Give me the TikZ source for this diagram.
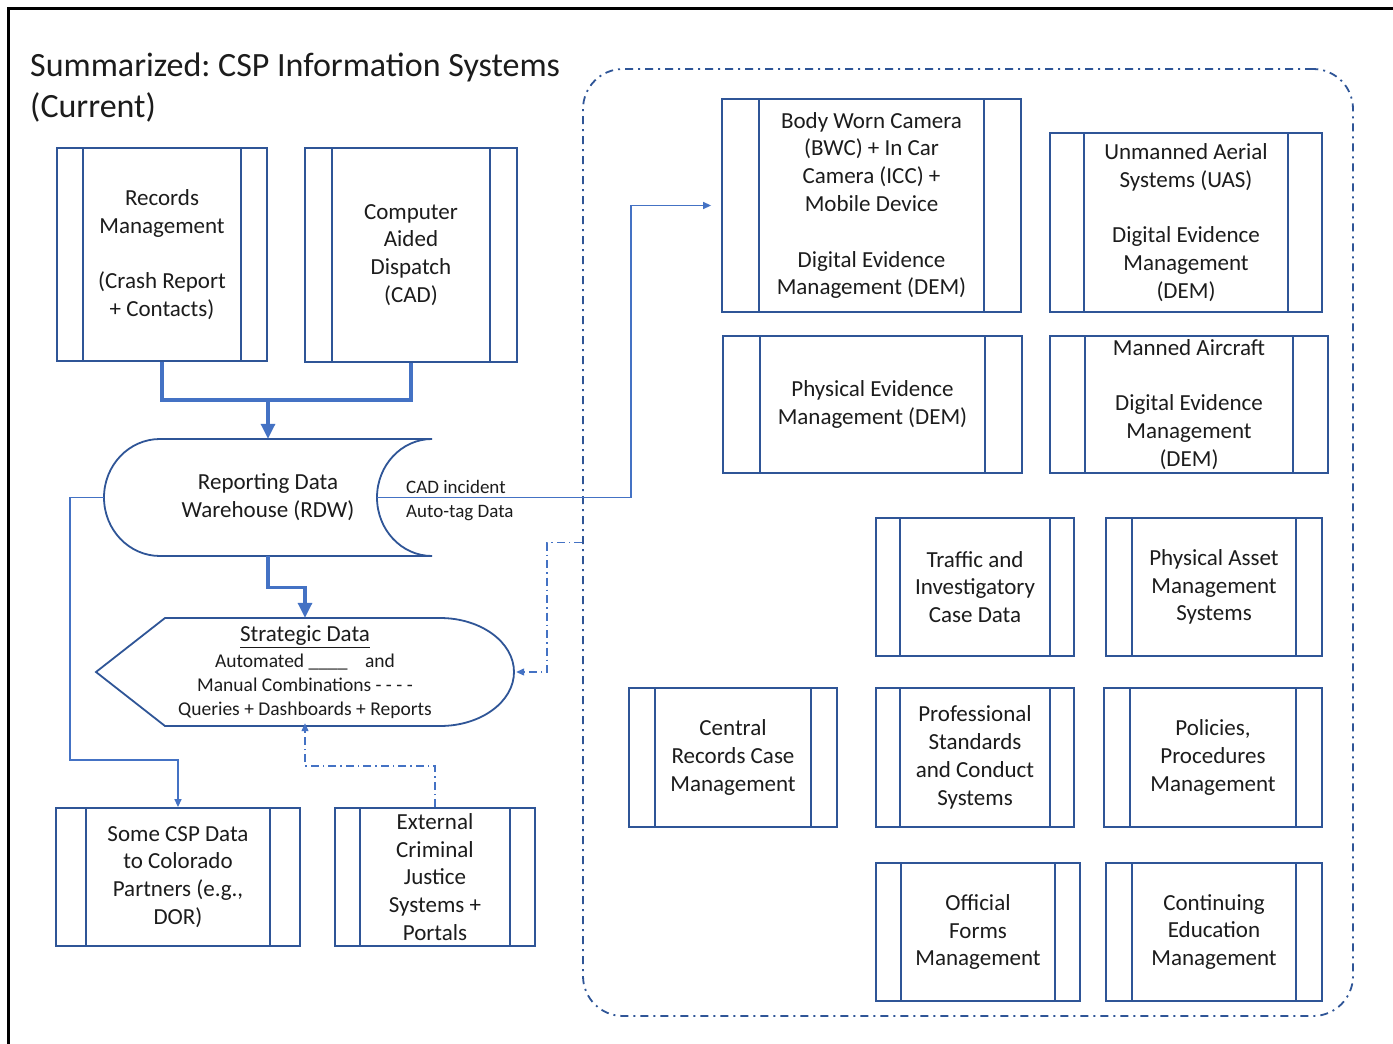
\documentclass[tikz,border=0pt]{standalone}
\usepackage{fontspec}
\setmainfont{Carlito}
\usetikzlibrary{arrows.meta}
\frenchspacing

\definecolor{boxblue}{RGB}{47,85,151}
\definecolor{linkblue}{RGB}{68,114,196}
\definecolor{inkgray}{RGB}{28,28,28}

\tikzset{
  procbox/.style={draw=boxblue, line width=1.8pt, align=center, inner sep=0pt, text=inkgray,
    font=\fontsize{23}{27.8}\selectfont,
    path picture={\draw[boxblue, line width=1.8pt]
      ([xshift=#1]path picture bounding box.north west) -- ([xshift=#1]path picture bounding box.south west)
      ([xshift=-#1]path picture bounding box.north east) -- ([xshift=-#1]path picture bounding box.south east);}},
  procbox/.default=26pt,
  datatext/.style={align=center, inner sep=0pt, text=inkgray, font=\fontsize{23}{27.8}\selectfont},
  smalltext/.style={inner sep=0pt, text=inkgray, font=\fontsize{19}{24}\selectfont},
  shapeline/.style={draw=boxblue, line width=1.8pt},
  groupbox/.style={draw=boxblue, line width=1.8pt, rounded corners=40pt,
    dash pattern=on 8pt off 5pt on 2pt off 5pt},
}

\begin{document}
\begin{tikzpicture}[x=1pt, y=-1pt,
  fatline/.style={draw=linkblue, line width=3.2pt},
  fatarrow/.style={fatline, -{Triangle[length=15pt,width=14pt]}},
  thinarrow/.style={draw=linkblue, line width=1.3pt, -{Triangle[length=8pt,width=7pt]}},
  dotarrow/.style={thinarrow, dash pattern=on 8pt off 4pt on 1.5pt off 4pt},
  ]
  \useasboundingbox[fill=white] (0,0) rectangle (1393,1044);
  \draw[black, line width=3pt] (8,1044) -- (8,8) -- (1393,8);

  % title
  \node[anchor=north west, align=left, inner sep=0pt, text=inkgray,
    font=\fontsize{34}{41}\selectfont] (title) at (30,53)
    {Summarized: CSP Information Systems\\(Current)};

  % dashed group of systems
  \node[groupbox, minimum width=770pt, minimum height=947pt] (grp) at (968,542.5) {};

  % left column
  \node[procbox=26pt, minimum width=210pt, minimum height=213pt] (rec) at (162,254.5)
    {Records\\Management\\[27.8pt](Crash Report\\+ Contacts)};
  \node[procbox=27pt, minimum width=212pt, minimum height=214pt] (cad) at (411,255)
    {Computer\\Aided\\Dispatch\\(CAD)};

  % reporting data warehouse
  \draw[shapeline] (160,439) -- (432,439)
    .. controls (401.6,439) and (377,465.2) .. (377,497.5)
    .. controls (377,529.8) and (401.6,556) .. (432,556) -- (160,556)
    .. controls (129,556) and (104,529.8) .. (104,497.5)
    .. controls (104,465.2) and (129,439) .. cycle;
  \node[datatext, minimum width=328pt, minimum height=117pt] (rdw) at (268,497.5)
    {Reporting Data\\Warehouse (RDW)};
  \coordinate (rdwin) at (377,497.5);

  % strategic data
  \draw[shapeline] (96,672) -- (165,618) -- (440,618)
    .. controls (480.9,618) and (514,642.2) .. (514,672)
    .. controls (514,701.8) and (480.9,726) .. (440,726) -- (165,726) -- cycle;
  \node[datatext, font=\fontsize{19.5}{24}\selectfont, minimum width=418pt, minimum height=108pt] (sd) at (305,672)
    {{\fontsize{23}{24}\selectfont\underline{Strategic Data}}\\[2pt]
     Automated \_\_\_\_\ \ \ \ and\\
     Manual Combinations - - - -\\
     Queries + Dashboards + Reports};

  \node[procbox=30pt, minimum width=244pt, minimum height=138pt] (csp) at (178,877)
    {Some CSP Data\\to Colorado\\Partners (e.g.,\\DOR)};
  \node[procbox=25pt, minimum width=200pt, minimum height=138pt] (ext) at (435,877)
    {External\\Criminal\\Justice\\Systems +\\Portals};

  % systems in the group
  \node[procbox=37pt, minimum width=299pt, minimum height=213pt] (bwc) at (871.5,205.5)
    {Body Worn Camera\\(BWC) + In Car\\Camera (ICC) +\\Mobile Device\\[27.8pt]Digital Evidence\\Management (DEM)};
  \node[procbox=34pt, minimum width=272pt, minimum height=179pt] (uas) at (1186,222.5)
    {Unmanned Aerial\\Systems (UAS)\\[27.8pt]Digital Evidence\\Management\\(DEM)};
  \node[procbox=37pt, minimum width=299pt, minimum height=137pt] (phys) at (872.5,404.5)
    {Physical Evidence\\Management (DEM)};
  \node[procbox=35pt, minimum width=278pt, minimum height=137pt] (air) at (1189,404.5)
    {Manned Aircraft\\[27.8pt]Digital Evidence\\Management\\(DEM)};
  \node[procbox=24pt, minimum width=198pt, minimum height=138pt] (traf) at (975,587)
    {Traffic and\\Investigatory\\Case Data};
  \node[procbox=26pt, minimum width=216pt, minimum height=138pt] (asset) at (1214,587)
    {Physical Asset\\Management\\Systems};
  \node[procbox=26pt, minimum width=208pt, minimum height=139pt] (crcm) at (733,757.5)
    {Central\\Records Case\\Management};
  \node[procbox=24pt, minimum width=198pt, minimum height=139pt] (psc) at (975,757.5)
    {Professional\\Standards\\and Conduct\\Systems};
  \node[procbox=26pt, minimum width=218pt, minimum height=139pt] (pol) at (1213,757.5)
    {Policies,\\Procedures\\Management};
  \node[procbox=25pt, minimum width=204pt, minimum height=138pt] (forms) at (978,932)
    {Official\\Forms\\Management};
  \node[procbox=26pt, minimum width=216pt, minimum height=138pt] (edu) at (1214,932)
    {Continuing\\Education\\Management};

  % connectors
  \coordinate (join) at (268,400);
  \draw[fatline] (rec.south) |- (join) -| (cad.south);
  \draw[fatarrow] (join) -- (rdw.north);
  \draw[fatarrow] (rdw.south) -- ++(0,31) -| (sd.north);

  \draw[thinarrow] (rdwin) -- ++(254,0) |- ([xshift=-10pt]bwc.west);
  \node[smalltext, anchor=base west] (cadlbl) at (406,493) {CAD incident};
  \node[smalltext, anchor=base west] (taglbl) at (406,517) {Auto-tag Data};

  \draw[thinarrow] (rdw.west) -| (70,760) -| (csp.north);
  \draw[dotarrow] (ext.north) -- ++(0,-41) -| ([yshift=3pt]sd.south);
  \draw[dotarrow] (grp.west) -- ++(-35,0) |- ([xshift=2pt]sd.east);
\end{tikzpicture}
\end{document}
